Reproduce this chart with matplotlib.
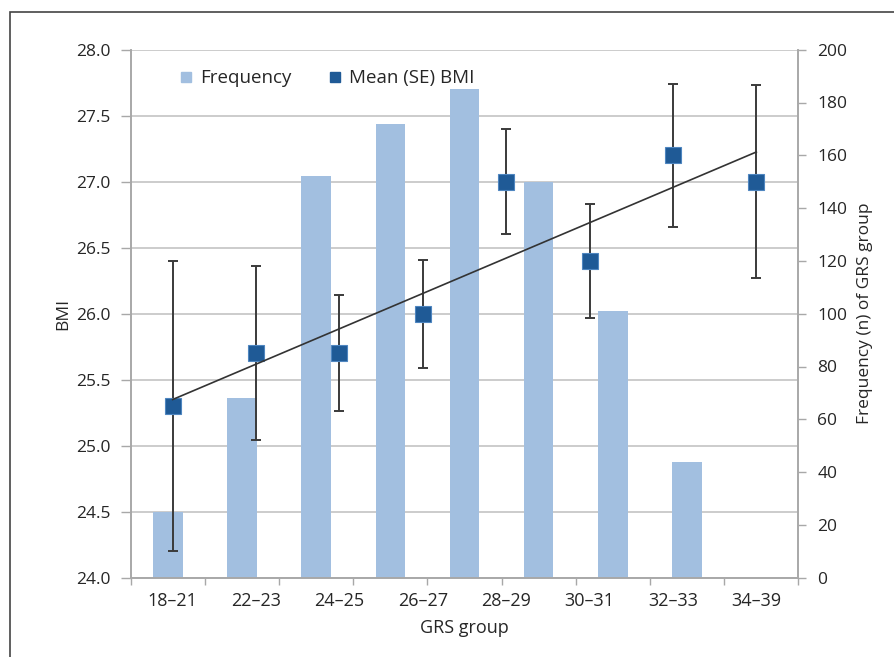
import numpy as np
import matplotlib
matplotlib.use("Agg")
import matplotlib.pyplot as plt
from matplotlib.lines import Line2D
from matplotlib.patches import Rectangle
from matplotlib.ticker import MultipleLocator

plt.rcParams['font.family'] = ['Open Sans', 'DejaVu Sans']

# data
groups = ['18\u201321', '22\u201323', '24\u201325', '26\u201327',
          '28\u201329', '30\u201331', '32\u201333', '34\u201339']
freq = [25, 68, 152, 172, 185, 150, 101, 44]
bmi_mean = [25.3, 25.7, 25.7, 26.0, 27.0, 26.4, 27.2, 27.0]
bmi_se = [1.1, 0.66, 0.44, 0.41, 0.40, 0.43, 0.54, 0.73]

bar_col = '#A2BFE0'
mark_col = '#1F5A96'
grid_col = '#C4C4C4'
axis_col = '#A8A8A8'
txt_col = '#262626'

fig = plt.figure(figsize=(8.95, 6.57), dpi=100)
ax = fig.add_axes([131/895, 1-577.7/657, (798-131)/895, (577.7-49.7)/657])
ax2 = ax.twinx()
ax.set_zorder(ax2.get_zorder() + 1)
ax.patch.set_visible(False)

# bars sit in 9 slots, markers/labels in 8 (as in the excel original)
n = len(groups)
nslots = n + 1
bar_x = np.arange(n) + 0.5
pt_x = (np.arange(n) + 0.5) * nslots / n

ax2.bar(bar_x, freq, width=0.4, color=bar_col, zorder=2)
ax2.set_ylim(0, 200)
ax2.yaxis.set_major_locator(MultipleLocator(20))
ax2.yaxis.set_minor_locator(MultipleLocator(25))
ax2.yaxis.remove_overlapping_locs = False
ax2.grid(which='minor', axis='y', color=grid_col, lw=1.2)
ax2.set_axisbelow(True)
ax2.tick_params(axis='y', which='major', length=6, width=1, color=axis_col,
                labelsize=12.5, labelcolor=txt_col, pad=8)
ax2.tick_params(axis='y', which='minor', length=0)
ax2.set_ylabel('Frequency (n) of GRS group', fontsize=12.5, color=txt_col,
               labelpad=7)

ax.errorbar(pt_x, bmi_mean, yerr=bmi_se, fmt='none', ecolor='#3A3A3A',
            elinewidth=1.4, capsize=3.5, capthick=1.4, zorder=3)
ax.plot(pt_x, bmi_mean, 's', ms=12, color=mark_col, mec='#4F86C0',
        mew=0.8, zorder=4)
k, b = np.polyfit(np.arange(n), bmi_mean, 1)
ax.plot(pt_x[[0, -1]], k*np.array([0, n-1]) + b, color='#333333', lw=1.2,
        zorder=5)

ax.set_ylim(24, 28)
ax.set_xlim(0, nslots)
ax.yaxis.set_major_locator(MultipleLocator(0.5))
ax.yaxis.set_major_formatter(lambda v, p: f'{v:.1f}')
ax.tick_params(axis='y', length=7, width=1, color=axis_col, labelsize=12.5,
               labelcolor=txt_col, pad=8)
ax.set_xticks(np.arange(nslots + 1))
ax.set_xticklabels([])
ax.set_xticks(pt_x, minor=True)
ax.set_xticklabels(groups, minor=True)
ax.tick_params(axis='x', which='major', length=5, width=1, color=axis_col)
ax.tick_params(axis='x', which='minor', length=0, labelsize=13,
               labelcolor=txt_col, pad=10)
ax.set_ylabel('BMI', fontsize=12.5, color=txt_col, labelpad=3)
ax.set_xlabel('GRS group', fontsize=13, color=txt_col, labelpad=7)

for a in (ax, ax2):
    a.spines['top'].set_visible(False)
    for s in ('left', 'right', 'bottom'):
        a.spines[s].set_color(axis_col)
        a.spines[s].set_linewidth(1.2)

handles = [Line2D([], [], ls='none', marker='s', ms=6.7, color=bar_col),
           Line2D([], [], ls='none', marker='s', ms=6.7, color=mark_col)]
ax.legend(handles, ['Frequency', 'Mean (SE) BMI'], ncol=2, frameon=False,
          loc='upper left', bbox_to_anchor=(0.047, 0.995), fontsize=13.5,
          handlelength=0.7, handletextpad=0.4, columnspacing=2.0,
          labelcolor=txt_col)

fig.add_artist(Rectangle((10/895, -0.1), 1.0, 1 - 12/657 + 0.1,
                         transform=fig.transFigure, fill=False,
                         edgecolor='#444444', lw=1.2))

fig.savefig('out.png', dpi=100, facecolor='white')
